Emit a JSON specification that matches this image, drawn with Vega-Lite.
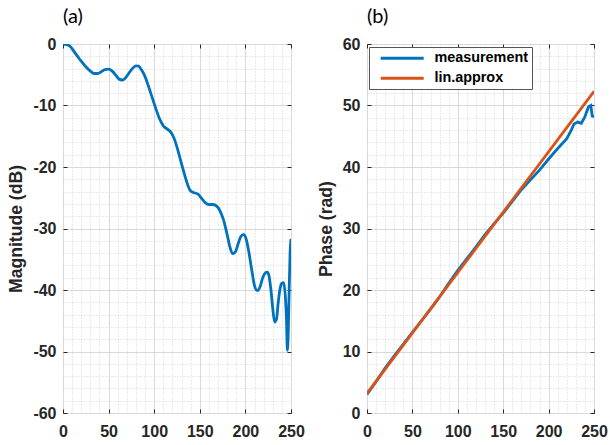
{
  "$schema": "https://vega.github.io/schema/vega-lite/v6.json",
  "background": "white",
  "padding": {"left": 7, "top": 6, "right": 0, "bottom": 0},
  "spacing": 11,
  "resolve": {"legend": {"color": "independent"}},
  "config": {
    "view": {"stroke": "#555555", "strokeWidth": 1},
    "font": "Liberation Sans",
    "axis": {
      "domain": false,
      "labelFont": "Liberation Sans",
      "labelFontWeight": "bold",
      "labelFontSize": 16,
      "labelColor": "#262626",
      "labelFlush": false,
      "labelOverlap": false,
      "labelBound": false,
      "titleFont": "Liberation Sans",
      "titleFontWeight": "bold",
      "titleFontSize": 17.6,
      "titleColor": "#262626",
      "tickColor": "#262626",
      "tickSize": -4,
      "tickWidth": 1
    },
    "title": {
      "font": "Lato",
      "fontSize": 20,
      "fontWeight": "normal",
      "color": "#000000",
      "anchor": "start",
      "frame": "group",
      "offset": 9
    },
    "legend": {
      "title": null,
      "orient": "none",
      "legendX": 2,
      "legendY": 3,
      "fillColor": "white",
      "strokeColor": "#555555",
      "padding": 4,
      "rowPadding": 5,
      "labelFont": "Liberation Sans",
      "labelFontWeight": "bold",
      "labelFontSize": 14.4,
      "labelColor": "#000000",
      "symbolType": "M-4.3,0H4.3",
      "symbolSize": 100,
      "symbolOffset": 22,
      "labelOffset": 25,
      "symbolStrokeWidth": 3
    }
  },
  "datasets": {
    "magnitude": [
      {"f": 0, "db": 0}, {"f": 4, "db": -0.1}, {"f": 8, "db": -0.4}, {"f": 12, "db": -1.2},
      {"f": 16, "db": -2.0}, {"f": 20, "db": -2.8}, {"f": 25, "db": -3.7}, {"f": 30, "db": -4.4},
      {"f": 34, "db": -4.8}, {"f": 38, "db": -4.8}, {"f": 42, "db": -4.5}, {"f": 46, "db": -4.15},
      {"f": 50, "db": -4.1}, {"f": 54, "db": -4.4}, {"f": 58, "db": -5.1}, {"f": 62, "db": -5.75},
      {"f": 65, "db": -5.85}, {"f": 68, "db": -5.6}, {"f": 72, "db": -4.8}, {"f": 76, "db": -4.0},
      {"f": 80, "db": -3.55}, {"f": 83, "db": -3.6}, {"f": 86, "db": -4.2}, {"f": 90, "db": -5.3},
      {"f": 94, "db": -7.0}, {"f": 98, "db": -8.8}, {"f": 102, "db": -10.6}, {"f": 106, "db": -12.2},
      {"f": 110, "db": -13.3}, {"f": 114, "db": -13.8}, {"f": 118, "db": -14.3}, {"f": 122, "db": -15.4},
      {"f": 126, "db": -17.3}, {"f": 130, "db": -19.5}, {"f": 134, "db": -21.6}, {"f": 137, "db": -23.0},
      {"f": 140, "db": -23.9}, {"f": 144, "db": -24.2}, {"f": 148, "db": -24.4}, {"f": 152, "db": -25.1},
      {"f": 156, "db": -25.8}, {"f": 160, "db": -26.1}, {"f": 164, "db": -26.1}, {"f": 168, "db": -26.3},
      {"f": 172, "db": -27.1}, {"f": 176, "db": -28.6}, {"f": 180, "db": -31.0}, {"f": 183, "db": -33.0},
      {"f": 186, "db": -34.1}, {"f": 189, "db": -33.8}, {"f": 192, "db": -32.5}, {"f": 195, "db": -31.3},
      {"f": 198, "db": -31.0}, {"f": 201, "db": -31.8}, {"f": 204, "db": -34.0}, {"f": 207, "db": -36.8},
      {"f": 210, "db": -39.3}, {"f": 213, "db": -40.1}, {"f": 216, "db": -39.5}, {"f": 219, "db": -38.0},
      {"f": 222, "db": -37.2}, {"f": 224, "db": -37.1}, {"f": 226, "db": -37.8}, {"f": 228, "db": -40.0},
      {"f": 230, "db": -43.0}, {"f": 232, "db": -45.2}, {"f": 234, "db": -44.8}, {"f": 236, "db": -42.0},
      {"f": 238, "db": -39.8}, {"f": 240, "db": -38.9}, {"f": 242, "db": -38.8}, {"f": 244, "db": -41.5},
      {"f": 245, "db": -44.5}, {"f": 246, "db": -49.8}, {"f": 247, "db": -47.0}, {"f": 248, "db": -40.0},
      {"f": 249, "db": -34.0}, {"f": 250, "db": -31.7}
    ],
    "phase": [
      {"f": 0, "phase": 3.0, "series": "measurement"}, {"f": 10, "phase": 5.1, "series": "measurement"},
      {"f": 20, "phase": 7.3, "series": "measurement"}, {"f": 30, "phase": 9.3, "series": "measurement"},
      {"f": 40, "phase": 11.2, "series": "measurement"}, {"f": 50, "phase": 13.1, "series": "measurement"},
      {"f": 60, "phase": 15.0, "series": "measurement"}, {"f": 70, "phase": 16.9, "series": "measurement"},
      {"f": 80, "phase": 18.9, "series": "measurement"}, {"f": 90, "phase": 21.1, "series": "measurement"},
      {"f": 100, "phase": 23.2, "series": "measurement"}, {"f": 110, "phase": 25.1, "series": "measurement"},
      {"f": 120, "phase": 27.0, "series": "measurement"}, {"f": 130, "phase": 29.0, "series": "measurement"},
      {"f": 140, "phase": 30.8, "series": "measurement"}, {"f": 150, "phase": 32.5, "series": "measurement"},
      {"f": 160, "phase": 34.4, "series": "measurement"}, {"f": 170, "phase": 36.3, "series": "measurement"},
      {"f": 180, "phase": 37.9, "series": "measurement"}, {"f": 190, "phase": 39.5, "series": "measurement"},
      {"f": 200, "phase": 41.3, "series": "measurement"}, {"f": 210, "phase": 43.0, "series": "measurement"},
      {"f": 220, "phase": 44.6, "series": "measurement"}, {"f": 225, "phase": 46.0, "series": "measurement"},
      {"f": 228, "phase": 47.0, "series": "measurement"}, {"f": 232, "phase": 47.3, "series": "measurement"},
      {"f": 236, "phase": 47.1, "series": "measurement"}, {"f": 240, "phase": 48.2, "series": "measurement"},
      {"f": 244, "phase": 49.8, "series": "measurement"}, {"f": 246.5, "phase": 50.0, "series": "measurement"},
      {"f": 248, "phase": 48.3, "series": "measurement"}, {"f": 250, "phase": 48.2, "series": "measurement"},
      {"f": 0, "phase": 3.2, "series": "lin.approx"}, {"f": 250, "phase": 52.3, "series": "lin.approx"}
    ]
  },
  "hconcat": [
    {
      "width": 228,
      "height": 369,
      "title": {"text": "(a)"},
      "data": {"name": "magnitude"},
      "resolve": {"axis": {"x": "independent", "y": "independent"}},
      "layer": [
        {
          "mark": {"type": "line", "interpolate": "monotone", "color": "#0072BD", "strokeWidth": 2.8, "clip": true},
          "encoding": {
            "x": {
              "field": "f", "type": "quantitative",
              "scale": {"domain": [0, 250], "nice": false},
              "axis": {
                "orient": "bottom", "title": null, "labelPadding": 14,
                "values": [0, 10, 20, 30, 40, 50, 60, 70, 80, 90, 100, 110, 120, 130, 140, 150, 160, 170, 180, 190, 200, 210, 220, 230, 240, 250],
                "labelExpr": "datum.value % 50 === 0 ? '' + datum.value : ''",
                "gridColor": {"condition": {"test": "datum.value % 50 === 0", "value": "#d9d9d9"}, "value": "#d4d4d4"},
                "gridDash": {"condition": {"test": "datum.value % 50 === 0", "value": []}, "value": [1, 2]},
                "tickOpacity": {"condition": {"test": "datum.value % 50 === 0", "value": 1}, "value": 0}
              }
            },
            "y": {
              "field": "db", "type": "quantitative",
              "scale": {"domain": [-60, 0], "nice": false},
              "axis": {
                "orient": "left", "title": "Magnitude (dB)", "labelPadding": 11, "titlePadding": 7,
                "values": [-60, -58, -56, -54, -52, -50, -48, -46, -44, -42, -40, -38, -36, -34, -32, -30, -28, -26, -24, -22, -20, -18, -16, -14, -12, -10, -8, -6, -4, -2, 0],
                "labelExpr": "datum.value % 10 === 0 ? '' + datum.value : ''",
                "gridColor": {"condition": {"test": "datum.value % 10 === 0", "value": "#d9d9d9"}, "value": "#d4d4d4"},
                "gridDash": {"condition": {"test": "datum.value % 10 === 0", "value": []}, "value": [1, 2]},
                "tickOpacity": {"condition": {"test": "datum.value % 10 === 0", "value": 1}, "value": 0}
              }
            }
          }
        },
        {
          "mark": {"type": "line", "opacity": 0},
          "encoding": {
            "x": {"field": "f", "type": "quantitative",
              "axis": {"orient": "top", "title": null, "labels": false, "grid": false, "values": [0, 50, 100, 150, 200, 250]}},
            "y": {"field": "db", "type": "quantitative",
              "axis": {"orient": "right", "title": null, "labels": false, "grid": false, "values": [-60, -50, -40, -30, -20, -10, 0]}}
          }
        }
      ]
    },
    {
      "width": 227,
      "height": 369,
      "title": {"text": "(b)"},
      "data": {"name": "phase"},
      "resolve": {"axis": {"x": "independent", "y": "independent"}},
      "layer": [
        {
          "mark": {"type": "line", "strokeWidth": 2.8, "clip": true},
          "encoding": {
            "x": {
              "field": "f", "type": "quantitative",
              "scale": {"domain": [0, 250], "nice": false},
              "axis": {
                "orient": "bottom", "title": null, "labelPadding": 14,
                "values": [0, 10, 20, 30, 40, 50, 60, 70, 80, 90, 100, 110, 120, 130, 140, 150, 160, 170, 180, 190, 200, 210, 220, 230, 240, 250],
                "labelExpr": "datum.value % 50 === 0 ? '' + datum.value : ''",
                "gridColor": {"condition": {"test": "datum.value % 50 === 0", "value": "#d9d9d9"}, "value": "#d4d4d4"},
                "gridDash": {"condition": {"test": "datum.value % 50 === 0", "value": []}, "value": [1, 2]},
                "tickOpacity": {"condition": {"test": "datum.value % 50 === 0", "value": 1}, "value": 0}
              }
            },
            "y": {
              "field": "phase", "type": "quantitative",
              "scale": {"domain": [0, 60], "nice": false},
              "axis": {
                "orient": "left", "title": "Phase (rad)", "labelPadding": 11, "titlePadding": 7,
                "values": [0, 2, 4, 6, 8, 10, 12, 14, 16, 18, 20, 22, 24, 26, 28, 30, 32, 34, 36, 38, 40, 42, 44, 46, 48, 50, 52, 54, 56, 58, 60],
                "labelExpr": "datum.value % 10 === 0 ? '' + datum.value : ''",
                "gridColor": {"condition": {"test": "datum.value % 10 === 0", "value": "#d9d9d9"}, "value": "#d4d4d4"},
                "gridDash": {"condition": {"test": "datum.value % 10 === 0", "value": []}, "value": [1, 2]},
                "tickOpacity": {"condition": {"test": "datum.value % 10 === 0", "value": 1}, "value": 0}
              }
            },
            "color": {
              "field": "series", "type": "nominal",
              "scale": {"domain": ["measurement", "lin.approx"], "range": ["#0072BD", "#D95319"]},
              "legend": {"title": null}
            }
          }
        },
        {
          "mark": {"type": "line", "opacity": 0},
          "encoding": {
            "x": {"field": "f", "type": "quantitative",
              "axis": {"orient": "top", "title": null, "labels": false, "grid": false, "values": [0, 50, 100, 150, 200, 250]}},
            "y": {"field": "phase", "type": "quantitative",
              "axis": {"orient": "right", "title": null, "labels": false, "grid": false, "values": [0, 10, 20, 30, 40, 50, 60]}}
          }
        }
      ]
    }
  ]
}
